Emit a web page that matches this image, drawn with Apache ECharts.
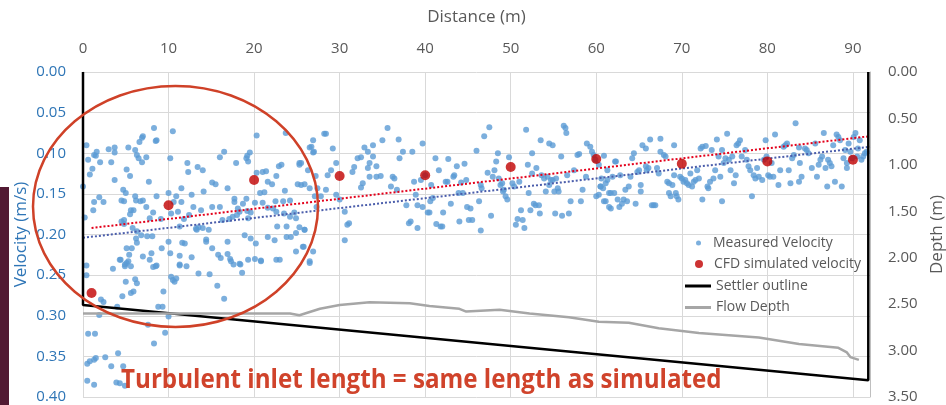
<!DOCTYPE html>
<html>
<head>
<meta charset="utf-8">
<script src="https://cdn.jsdelivr.net/npm/echarts@6/dist/echarts.min.js"></script>
<style>
  html, body { margin: 0; padding: 0; background: #fff; }
  #chart { width: 946px; height: 405px; }
</style>
</head>
<body>
<div id="chart"></div>
<script>
  // measured velocity points [distance (m), velocity (m/s)]
  var measuredPoints = [
    [0.0,0.141],[0.4,0.090],[0.6,0.108],[1.1,0.119],[1.6,0.098],[1.5,0.103],[1.3,0.102],[2.0,0.111],[0.8,0.126],
    [0.2,0.179],[1.2,0.170],[1.3,0.160],[1.9,0.154],[2.4,0.160],[3.0,0.095],[3.7,0.093],[3.7,0.099],[3.3,0.111],
    [3.7,0.133],[5.3,0.093],[5.1,0.120],[6.1,0.096],[6.3,0.102],[6.6,0.086],[6.9,0.081],[6.5,0.106],[7.4,0.105],
    [6.9,0.111],[5.5,0.128],[7.7,0.135],[8.5,0.085],[10.5,0.073],[10.2,0.106],[8.6,0.153],[10.0,0.149],[10.9,0.153],
    [10.6,0.160],[11.5,0.160],[11.1,0.172],[11.5,0.143],[12.2,0.112],[12.3,0.123],[13.4,0.117],[14.0,0.121],[14.1,0.147],
    [12.7,0.151],[12.9,0.166],[13.8,0.170],[15.1,0.136],[15.5,0.138],[16.0,0.105],[16.5,0.098],[16.9,0.143],[16.0,0.166],
    [16.3,0.182],[15.1,0.166],[14.7,0.194],[13.5,0.191],[13.3,0.194],[12.4,0.176],[11.8,0.181],[11.3,0.190],[10.3,0.174],
    [9.1,0.181],[8.2,0.173],[7.8,0.180],[7.4,0.166],[7.0,0.158],[6.7,0.159],[6.1,0.153],[5.9,0.170],[5.6,0.170],
    [5.8,0.192],[4.7,0.145],[5.0,0.149],[4.5,0.158],[4.8,0.159],[5.5,0.175],[4.8,0.182],[4.8,0.187],[4.5,0.184],
    [6.2,0.158],[6.3,0.196],[6.2,0.205],[6.3,0.210],[6.8,0.201],[8.1,0.202],[7.5,0.202],[5.1,0.217],[5.7,0.217],
    [5.4,0.225],[5.3,0.233],[4.4,0.231],[4.9,0.237],[5.6,0.239],[7.0,0.227],[8.0,0.223],[7.8,0.231],[8.5,0.239],
    [9.2,0.217],[10.0,0.209],[10.2,0.223],[11.3,0.226],[11.6,0.210],[11.9,0.211],[11.3,0.237],[12.1,0.239],[12.7,0.228],
    [13.2,0.193],[14.0,0.192],[14.4,0.209],[14.4,0.206],[15.1,0.217],[16.1,0.229],[15.8,0.225],[16.9,0.209],[16.9,0.224],
    [17.2,0.230],[17.6,0.237],[18.4,0.237],[18.9,0.201],[19.6,0.205],[19.3,0.231],[20.2,0.211],[20.1,0.230],[20.8,0.232],
    [22.6,0.231],[21.6,0.203],[22.4,0.207],[23.8,0.203],[24.3,0.203],[24.9,0.198],[25.3,0.191],[25.9,0.194],[25.8,0.215],
    [24.9,0.221],[23.8,0.190],[22.7,0.190],[22.6,0.172],[23.5,0.174],[23.4,0.159],[23.6,0.146],[24.2,0.158],[24.7,0.173],
    [24.9,0.180],[25.1,0.138],[22.9,0.116],[23.2,0.114],[22.6,0.128],[22.1,0.138],[21.6,0.135],[21.4,0.122],[21.0,0.123],
    [20.3,0.124],[20.7,0.149],[21.2,0.148],[21.0,0.161],[21.6,0.167],[22.2,0.168],[22.5,0.159],[20.1,0.161],[19.6,0.173],
    [19.2,0.171],[18.7,0.162],[17.7,0.160],[17.7,0.156],[18.1,0.168],[18.3,0.172],[18.0,0.176],[17.5,0.178],[17.1,0.181],
    [19.3,0.180],[19.1,0.156],[19.1,0.106],[19.3,0.110],[19.2,0.103],[19.5,0.099],[20.3,0.078],[17.9,0.112],[26.7,0.092],
    [27.0,0.098],[26.3,0.121],[26.5,0.143],[27.1,0.153],[25.3,0.114],[25.5,0.112],[25.9,0.138],[27.3,0.166],[26.9,0.221],
    [24.2,0.178],[7.0,0.079],[8.3,0.069],[8.6,0.084],[23.7,0.075],
    [0.6,0.322],[1.4,0.322],[0.5,0.359],[0.8,0.356],[1.3,0.354],[1.5,0.352],[2.6,0.351],[4.1,0.346],[3.3,0.362],
    [4.7,0.362],[0.5,0.380],[1.3,0.385],[3.9,0.382],[4.3,0.383],[4.9,0.386],[8.3,0.334],[9.6,0.321],[7.6,0.311],
    [10.0,0.301],[0.4,0.250],[0.4,0.238],[5.0,0.258],[6.1,0.255],[6.3,0.260],[3.5,0.242],[4.3,0.231],[5.1,0.235],
    [4.9,0.239],[5.6,0.272],[5.9,0.270],[4.6,0.276],[4.0,0.289],[2.4,0.283],[2.1,0.280],[9.4,0.270],[8.8,0.289],
    [9.3,0.289],[8.2,0.240],[8.6,0.238],[10.3,0.252],[10.5,0.256],[10.7,0.258],[10.9,0.254],[11.3,0.238],[13.5,0.248],
    [14.8,0.249],[15.7,0.263],[16.5,0.279],[17.3,0.233],[18.3,0.236],[18.6,0.247],[20.8,0.233],[23.0,0.231],[26.5,0.233],
    [1.9,0.299],[25.3,0.112],[25.5,0.139],[25.9,0.194],[25.7,0.215],[26.5,0.235],
    [26.9,0.084],[26.5,0.093],[26.9,0.099],[28.2,0.076],[28.4,0.076],[27.2,0.128],[27.4,0.143],[27.8,0.153],[28.4,0.145],
    [28.6,0.127],[29.0,0.121],[29.2,0.094],[29.6,0.112],[29.6,0.151],[30.0,0.157],[30.6,0.172],[30.6,0.207],[31.1,0.186],
    [30.9,0.188],[31.5,0.123],[31.7,0.117],[32.1,0.106],[32.5,0.105],[32.7,0.137],[32.5,0.142],[32.9,0.093],[33.3,0.098],
    [33.5,0.112],[33.3,0.118],[33.5,0.129],[33.9,0.090],[33.9,0.104],[34.3,0.116],[34.3,0.129],[34.8,0.128],[35.0,0.084],
    [35.6,0.069],[36.0,0.141],[36.2,0.129],[36.4,0.131],[36.7,0.145],[36.9,0.083],[37.0,0.106],[37.4,0.098],[37.8,0.164],
    [38.1,0.186],[38.3,0.184],[38.5,0.098],[38.7,0.135],[38.9,0.151],[39.1,0.164],[39.1,0.192],[39.5,0.133],[39.7,0.088],
    [39.7,0.166],[40.0,0.127],[40.3,0.173],[40.5,0.173],[40.7,0.139],[40.6,0.159],[40.9,0.155],[41.2,0.106],[41.3,0.187],
    [41.6,0.121],[41.8,0.190],[42.0,0.190],[42.1,0.173],[42.4,0.135],[42.6,0.135],[42.7,0.107],[43.0,0.162],[43.3,0.129],
    [43.4,0.127],[43.7,0.116],[43.9,0.149],[44.0,0.184],[44.2,0.136],[44.4,0.149],[44.6,0.113],[44.8,0.133],[44.9,0.166],
    [45.3,0.168],[45.1,0.182],[45.5,0.182],[46.0,0.097],[46.3,0.159],[46.5,0.139],[46.6,0.143],[46.5,0.195],[46.9,0.079],
    [47.3,0.124],[47.5,0.068],[47.7,0.177],[47.9,0.129],[48.1,0.121],[48.3,0.110],[48.5,0.100],[48.6,0.131],[48.8,0.139],
    [49.0,0.137],[49.1,0.147],[49.2,0.145],[49.4,0.153],[49.6,0.157],[49.8,0.105],[50.2,0.137],[50.4,0.141],[50.6,0.188],
    [50.8,0.181],[51.0,0.135],[51.2,0.170],[51.4,0.182],[51.6,0.192],[51.8,0.071],[52.0,0.114],[52.1,0.149],[52.3,0.170],
    [52.5,0.100],[52.5,0.125],[52.7,0.162],[52.9,0.164],[53.0,0.118],[53.3,0.164],[53.4,0.174],[53.5,0.084],[53.6,0.127],
    [53.9,0.131],[54.1,0.147],[54.3,0.129],[54.5,0.088],[54.5,0.139],[54.7,0.133],[54.9,0.133],[54.9,0.090],[55.1,0.147],
    [55.2,0.174],[55.3,0.131],[55.5,0.143],[55.6,0.147],[55.9,0.104],[56.0,0.177],[56.2,0.066],[56.4,0.069],[56.5,0.075],
    [56.6,0.127],[56.8,0.174],[57.0,0.159],[57.4,0.121],[57.8,0.102],[58.0,0.101],[58.2,0.159],[58.4,0.145],[58.8,0.129],
    [58.9,0.088],[59.3,0.092],[59.5,0.098],[59.7,0.102],[59.9,0.108],[60.0,0.153],[60.3,0.114],[60.5,0.141],[60.6,0.131],
    [60.8,0.143],[60.9,0.103],[61.1,0.159],[61.3,0.133],[61.5,0.166],[61.7,0.149],[61.9,0.129],[62.1,0.149],[62.3,0.110],
    [62.5,0.157],
    [60.3,0.151],[60.5,0.141],[60.9,0.159],[61.1,0.137],[61.3,0.121],[61.5,0.149],[61.7,0.168],[62.2,0.110],[62.7,0.166],
    [62.8,0.127],[63.0,0.162],[63.2,0.157],[63.4,0.145],[63.6,0.159],[63.8,0.141],[64.0,0.129],[64.2,0.106],[64.4,0.100],
    [64.6,0.162],[64.8,0.123],[65.0,0.121],[65.2,0.139],[65.2,0.147],[65.4,0.090],[65.8,0.094],[65.8,0.116],[65.9,0.121],
    [66.1,0.118],[66.3,0.083],[66.5,0.164],[66.7,0.164],[66.9,0.164],[67.1,0.118],[67.3,0.125],[67.5,0.082],[67.5,0.098],
    [67.9,0.102],[68.1,0.104],[68.3,0.135],[68.5,0.137],[68.5,0.149],[68.7,0.153],[68.9,0.139],[69.1,0.090],[69.1,0.127],
    [69.3,0.149],[69.4,0.153],[69.6,0.157],[69.8,0.129],[70.0,0.131],[70.2,0.135],[70.4,0.133],[70.6,0.137],[70.8,0.139],
    [71.0,0.125],[71.2,0.141],[71.4,0.135],[71.6,0.133],[71.8,0.121],[72.0,0.131],[72.2,0.094],[72.4,0.092],[72.4,0.157],
    [72.8,0.091],[73.0,0.141],[73.1,0.143],[73.3,0.135],[73.5,0.096],[73.7,0.131],[73.9,0.121],[74.1,0.083],[74.3,0.104],
    [74.5,0.129],[74.7,0.096],[74.7,0.159],[74.9,0.112],[75.1,0.106],[75.3,0.076],[75.5,0.108],[75.7,0.121],[75.9,0.104],
    [76.1,0.137],[76.3,0.127],[76.4,0.090],[76.6,0.088],[76.8,0.084],[77.0,0.104],[77.4,0.096],[77.6,0.108],[77.8,0.116],
    [78.0,0.121],[78.2,0.153],[78.4,0.127],[78.6,0.131],[78.8,0.118],[79.0,0.129],[79.4,0.133],[79.6,0.108],[79.8,0.084],
    [79.9,0.104],[80.1,0.127],[80.3,0.129],[80.5,0.112],[80.7,0.129],[80.9,0.077],[81.3,0.139],[81.5,0.121],[81.9,0.092],
    [82.1,0.090],[82.3,0.088],[82.5,0.121],[82.7,0.137],[82.9,0.106],[83.1,0.102],[83.3,0.063],[83.7,0.135],[83.7,0.093],
    [83.8,0.112],[84.0,0.129],[84.4,0.094],[84.6,0.096],[84.8,0.100],[85.2,0.118],[85.6,0.088],[85.8,0.129],[86.0,0.114],
    [86.2,0.108],[86.4,0.104],[86.6,0.075],[86.8,0.118],[87.0,0.141],[87.1,0.108],[87.3,0.112],[87.5,0.116],[87.7,0.090],
    [87.9,0.135],[88.1,0.077],[88.3,0.080],[88.5,0.084],[88.7,0.141],[88.9,0.106],[89.1,0.096],[89.3,0.112],[89.3,0.118],
    [89.5,0.088],[89.7,0.098],[89.9,0.106],[90.1,0.080],[90.3,0.075],[90.5,0.104],[90.6,0.094],[90.8,0.084],[91.0,0.108],
    [91.2,0.104],[91.4,0.100],[91.6,0.098]
  ];

  // CFD simulated velocity
  var cfdDist = [1, 10, 20, 30, 40, 50, 60, 70, 80, 90];
  var cfdVel = [0.272, 0.164, 0.133, 0.128, 0.127, 0.117, 0.107, 0.113, 0.110, 0.108];

  // dotted trend lines (end points)
  var cfdTrend = [[1, 0.192], [92, 0.079]];
  var measuredTrend = [[0, 0.204], [92, 0.092]];

  // settler outline and flow depth, depth axis (m)
  var settlerOutline = [[0, 0], [0, 2.51], [91.8, 3.32], [91.8, 0]];
  var flowDist = [0, 10, 20, 24.2, 25.3, 27.7, 30, 33.5, 38.2, 40.5, 44, 44.8, 48.7, 52.2, 56.8, 60.3, 63.8, 67.3, 72, 79, 83.7, 88.3, 89.3, 89.7, 90.7];
  var flowDepth = [2.60, 2.60, 2.60, 2.60, 2.62, 2.55, 2.51, 2.48, 2.49, 2.52, 2.55, 2.58, 2.56, 2.60, 2.64, 2.69, 2.70, 2.76, 2.81, 2.86, 2.93, 2.97, 3.02, 3.07, 3.10];

  var distTicks = [0, 10, 20, 30, 40, 50, 60, 70, 80, 90];

  var chart = echarts.init(document.getElementById('chart'));
  var fontFam = '"Open Sans", "Noto Sans", sans-serif';

  var legendText = { color: '#595959', fontSize: 14, fontFamily: fontFam, lineHeight: 16 };

  chart.setOption({
    animation: false,
    grid: { left: 83, right: 76, top: 72, bottom: 8, outerBoundsMode: 'none', containLabel: false },
    xAxis: {
      type: 'value', position: 'top', min: 0, max: 92, interval: 10,
      name: 'Distance (m)', nameLocation: 'middle', nameGap: 46,
      nameTextStyle: { color: '#595959', fontSize: 17, fontFamily: fontFam },
      axisLine: { show: false }, axisTick: { show: false },
      axisLabel: {
        color: '#595959', fontSize: 15, fontFamily: fontFam, margin: 16, showMaxLabel: false,
        formatter: function (v) { return distTicks.indexOf(v) >= 0 ? String(v) : ''; }
      },
      splitLine: { lineStyle: { color: '#d9d9d9', width: 1 } }
    },
    yAxis: [
      {
        type: 'value', inverse: true, min: 0, max: 0.4, interval: 0.05,
        name: 'Velocity (m/s)', nameLocation: 'middle', nameGap: 53, nameMoveOverlap: false,
        nameTextStyle: { color: '#2e75b6', fontSize: 17, fontFamily: fontFam },
        axisLine: { show: true, lineStyle: { color: '#d9d9d9' } }, axisTick: { show: false },
        axisLabel: { color: '#2e75b6', fontSize: 15, fontFamily: fontFam, margin: 17,
          formatter: function (v) { return v.toFixed(2); } },
        splitLine: { lineStyle: { color: '#d9d9d9', width: 1 } }
      },
      {
        type: 'value', inverse: true, min: 0, max: 3.5, interval: 0.5, position: 'right',
        name: 'Depth (m)', nameLocation: 'middle', nameGap: 59,
        nameTextStyle: { color: '#595959', fontSize: 17, fontFamily: fontFam },
        axisLine: { show: true, lineStyle: { color: '#bfbfbf' } }, axisTick: { show: false },
        axisLabel: { color: '#595959', fontSize: 15, fontFamily: fontFam, margin: 18,
          formatter: function (v) { return v.toFixed(2); } },
        splitLine: { show: false }
      }
    ],
    legend: [
      { data: ['Measured Velocity'], left: 696, top: 235, padding: 0, orient: 'vertical',
        itemWidth: 19, itemHeight: 5, textStyle: legendText },
      { data: ['CFD simulated velocity'], left: 695, top: 256, padding: 0, orient: 'vertical',
        itemWidth: 20, itemHeight: 8, textStyle: legendText },
      { data: ['Settler outline', 'Flow Depth'], left: 685, top: 278, padding: 0, orient: 'vertical',
        icon: 'rect', itemWidth: 26, itemHeight: 3, itemGap: 5.5, textStyle: legendText }
    ],
    series: [
      {
        name: 'Measured Velocity', type: 'scatter', data: measuredPoints,
        symbolSize: 6, itemStyle: { color: '#5b9bd5' }, z: 2
      },
      {
        name: 'Measured trend', type: 'line', data: measuredTrend, symbol: 'none',
        lineStyle: { color: '#4a5dab', width: 2, type: 'dotted' }, z: 3
      },
      {
        name: 'CFD trend', type: 'line', data: cfdTrend, symbol: 'none',
        lineStyle: { color: '#e3001b', width: 2, type: 'dotted' }, z: 3
      },
      {
        name: 'CFD simulated velocity', type: 'scatter',
        data: cfdDist.map(function (d, i) { return [d, cfdVel[i]]; }),
        symbolSize: 10, itemStyle: { color: '#c00000' }, z: 4
      },
      {
        name: 'Settler outline', type: 'line', yAxisIndex: 1, data: settlerOutline, symbol: 'none',
        lineStyle: { color: '#000000', width: 2.5 }, itemStyle: { color: '#000000' }, z: 5
      },
      {
        name: 'Flow Depth', type: 'line', yAxisIndex: 1,
        data: flowDist.map(function (d, i) { return [d, flowDepth[i]]; }), symbol: 'none',
        lineStyle: { color: '#a6a6a6', width: 2.5 }, itemStyle: { color: '#a6a6a6' }, z: 5
      }
    ],
    graphic: [
      { type: 'rect', left: 0, top: 187, shape: { width: 9, height: 218 }, style: { fill: '#521a33' }, z: 0 },
      { type: 'ellipse', shape: { cx: 175.5, cy: 206.5, rx: 142.5, ry: 120.5 },
        style: { fill: 'none', stroke: '#cf4128', lineWidth: 2.5 }, z: 100 },
      { type: 'text', x: 121, y: 380.5, scaleX: 0.895, z: 100,
        style: { text: 'Turbulent inlet length = same length as simulated', fill: '#d0432b',
          font: 'bold 27px "Open Sans", sans-serif', textVerticalAlign: 'middle' } }
    ]
  });
</script>
</body>
</html>
